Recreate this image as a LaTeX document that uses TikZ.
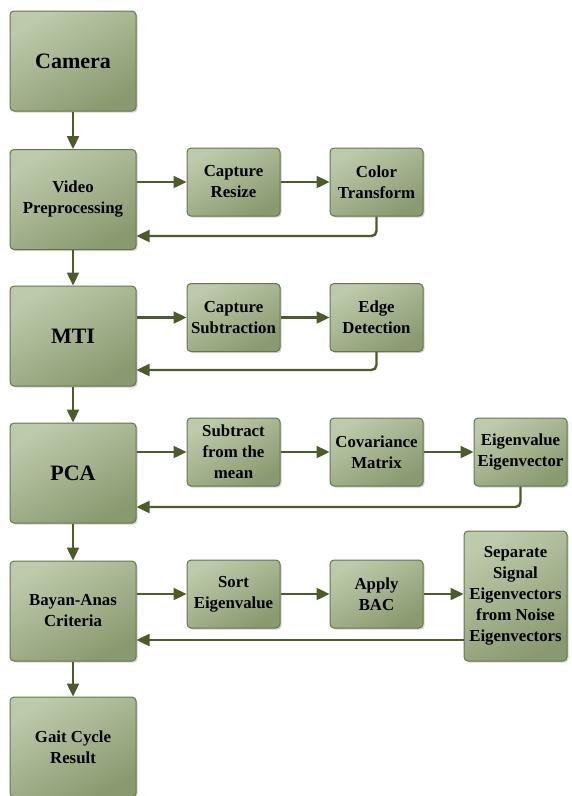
\documentclass[tikz,border=0pt]{standalone}
\usepackage{fontspec}
\setmainfont{Liberation Serif}
\usetikzlibrary{arrows.meta,shadows,calc}
\definecolor{boxlight}{HTML}{BDCAAB}
\definecolor{boxdark}{HTML}{8A9A70}
\definecolor{boxedge}{HTML}{66744F}
\definecolor{arrowc}{HTML}{4D5A2B}
\tikzset{
  base/.style={draw=boxedge, line width=1pt, rounded corners=4pt,
    top color=boxlight, bottom color=boxdark, shading angle=30,
    drop shadow={shadow xshift=1.5pt, shadow yshift=-1.5pt, opacity=0.35},
    align=center, font=\bfseries, text=black, inner sep=0pt},
  bigbox/.style={base, minimum width=126pt, minimum height=100pt},
  smallbox/.style={base, minimum width=93pt, minimum height=68pt},
  flow/.style={draw=arrowc, line width=2.4pt, -{Triangle[length=13pt,width=12pt]}},
  back/.style={flow, rounded corners=5pt},
  huge/.style={font=\fontsize{22}{26}\selectfont\bfseries},
  mid/.style={font=\fontsize{16.8}{21}\selectfont\bfseries}
}
\begin{document}
\begin{tikzpicture}[x=1pt,y=-1pt]
\useasboundingbox (0,0) rectangle (571,796);
% left column
\node[bigbox,huge] (cam) at (73,61) {Camera};
\node[bigbox,mid] (vid) at (73,199.5) {Video\\Preprocessing};
\node[bigbox,huge] (mti) at (73,336) {MTI};
\node[bigbox,huge] (pca) at (73,473) {PCA};
\node[bigbox,mid] (bay) at (73,611) {Bayan-Anas\\Criteria};
\node[bigbox,mid] (gait) at (73,747) {Gait Cycle\\Result};
% row 1
\node[smallbox,mid] (cr) at (233.5,182) {Capture\\Resize};
\node[smallbox,mid] (ct) at (376.5,182) {Color\\Transform};
% row 2
\node[smallbox,mid] (cs) at (233.5,317.5) {Capture\\Subtraction};
\node[smallbox,mid] (ed) at (376.5,317.5) {Edge\\Detection};
% row 3
\node[smallbox,mid] (sm) at (233.5,452) {Subtract\\from the\\mean};
\node[smallbox,mid] (cm) at (376.5,452) {Covariance\\Matrix};
\node[smallbox,mid] (ev) at (520.5,452) {Eigenvalue\\Eigenvector};
% row 4
\node[smallbox,mid] (se) at (233.5,594) {Sort\\Eigenvalue};
\node[smallbox,mid] (bac) at (376.5,594) {Apply\\BAC};
\node[base,mid,minimum width=103pt,minimum height=130pt] (sep) at (515.5,596) {Separate\\Signal\\Eigenvectors\\from Noise\\Eigenvectors};
% vertical flow
\draw[flow] (cam) -- (vid);
\draw[flow] (vid) -- (mti);
\draw[flow] (mti) -- (pca);
\draw[flow] (pca) -- (bay);
\draw[flow] (bay) -- (gait);
% row 1 arrows
\draw[flow] (cr.west -| vid.east) -- (cr.west);
\draw[flow] (cr) -- (ct);
\draw[back] (ct.south) |- ([yshift=-36.5pt]vid.east);
% row 2 arrows
\draw[flow] (cs.west -| mti.east) -- (cs.west);
\draw[flow] (cs) -- (ed);
\draw[back] (ed.south) |- ([yshift=-34pt]mti.east);
% row 3 arrows
\draw[flow] (sm.west -| pca.east) -- (sm.west);
\draw[flow] (sm) -- (cm);
\draw[flow] (cm) -- (ev);
\draw[back] (ev.south) |- ([yshift=-34pt]pca.east);
% row 4 arrows
\draw[flow] (se.west -| bay.east) -- (se.west);
\draw[flow] (se) -- (bac);
\draw[flow] (bac.east) -- (bac.east -| sep.west);
\draw[flow] ([yshift=-29pt]bay.east -| sep.west) -- ([yshift=-29pt]bay.east);
\end{tikzpicture}
\end{document}
